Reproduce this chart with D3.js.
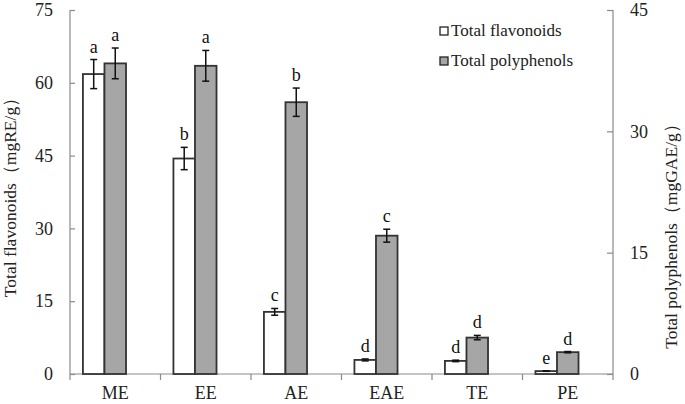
<!DOCTYPE html>
<html><head><meta charset="utf-8">
<script src="https://cdn.jsdelivr.net/npm/d3@7"></script>
<style>body{margin:0;background:#fff}svg{display:block}</style>
</head><body>
<svg id="c" width="685" height="404"></svg>
<script>
const categories = ["ME","EE","AE","EAE","TE","PE"];
const flavonoids = [61.8, 44.4, 12.8, 2.9, 2.7, 0.6];
const flavonoidsErr = [3.0, 2.3, 0.7, 0.2, 0.15, 0.05];
const flavonoidsLetters = ["a","b","c","d","d","e"];
const polyphenols = [38.4, 38.1, 33.6, 17.1, 4.5, 2.7];
const polyphenolsErr = [1.9, 1.9, 1.75, 0.8, 0.27, 0.08];
const polyphenolsLetters = ["a","a","b","c","d","d"];
const leftTicks = [0,15,30,45,60,75];
const rightTicks = [0,15,30,45];
const seriesNames = ["Total flavonoids","Total polyphenols"];

const svg = d3.select("#c");
const L = 70, R = 613, T = 10, B = 374;
const font = "'Liberation Serif','Times New Roman',serif";
const axisCol = "#8a8a8a";

const x = d3.scaleBand().domain(categories).range([L, R]).padding(0);
const sub = d3.scaleBand().domain(["f","p","_"]).range([0, x.bandwidth()]).paddingInner(0).paddingOuter(0.6);
const yL = d3.scaleLinear().domain([0,75]).range([B, T]);
const yR = d3.scaleLinear().domain([0,45]).range([B, T]);

// axes
const gL = svg.append("g").attr("transform",`translate(${L},0)`)
  .call(d3.axisRight(yL).tickValues(leftTicks).tickSize(5).tickFormat(d3.format("d")));
gL.selectAll("text").attr("x", -17).attr("text-anchor","end");
const gR = svg.append("g").attr("transform",`translate(${R},0)`)
  .call(d3.axisLeft(yR).tickValues(rightTicks).tickSize(6).tickFormat(d3.format("d")));
gR.selectAll("text").attr("x", 17).attr("text-anchor","start");
const gX = svg.append("g").attr("transform",`translate(0,${B})`)
  .call(d3.axisBottom(x).tickSize(0).tickFormat(d=>d));
gX.selectAll("text").attr("dy", 0).attr("y", 25);
// boundary ticks on x axis
gX.selectAll(".bt").data(d3.range(categories.length+1)).enter().append("line")
  .attr("x1", i=>L + i*x.step()).attr("x2", i=>L + i*x.step())
  .attr("y1",0).attr("y2",6).attr("stroke",axisCol).attr("stroke-width",1.2);

[gL,gR,gX].forEach(g=>{
  g.select(".domain").attr("stroke",axisCol).attr("stroke-width",1.2);
  g.selectAll(".tick line").attr("stroke",axisCol).attr("stroke-width",1.2);
  g.selectAll("text").attr("font-family",font).attr("font-size",18).attr("fill","#222");
});
gX.select(".domain").attr("d",`M${L},0H${R}`);
gL.select(".domain").attr("d",`M0,${T}V${B}`);
gR.select(".domain").attr("d",`M0,${T}V${B}`);

// bars
const data = categories.map((c,i)=>({c,
  f:flavonoids[i], fe:flavonoidsErr[i], fl:flavonoidsLetters[i],
  p:polyphenols[i], pe:polyphenolsErr[i], pl:polyphenolsLetters[i]}));

const bw = sub.bandwidth();
function drawSeries(key, scale, fill){
  const g = svg.append("g");
  g.selectAll("rect").data(data).enter().append("rect")
    .attr("x", d=>x(d.c)+sub(key))
    .attr("y", d=>scale(d[key]))
    .attr("width", bw)
    .attr("height", d=>B - scale(d[key]))
    .attr("fill", fill).attr("stroke","#333").attr("stroke-width",1.8);
  const ek = key+"e", lk = key+"l";
  const eg = g.selectAll("g.e").data(data).enter().append("g");
  eg.each(function(d){
    const cx = x(d.c)+sub(key)+bw/2;
    const y1 = scale(d[key]+d[ek]), y0 = scale(d[key]-d[ek]);
    const s = d3.select(this);
    s.append("line").attr("x1",cx).attr("x2",cx).attr("y1",y1).attr("y2",y0).attr("stroke","#111").attr("stroke-width",1.5);
    s.append("line").attr("x1",cx-3.5).attr("x2",cx+3.5).attr("y1",y1).attr("y2",y1).attr("stroke","#111").attr("stroke-width",1.5);
    s.append("line").attr("x1",cx-3.5).attr("x2",cx+3.5).attr("y1",y0).attr("y2",y0).attr("stroke","#111").attr("stroke-width",1.5);
    s.append("text").attr("x",cx).attr("y",y1-7).attr("text-anchor","middle")
      .attr("font-family",font).attr("font-size",18).attr("fill","#111").text(d[lk]);
  });
}
drawSeries("f", yL, "#ffffff");
drawSeries("p", yR, "#a6a6a6");

// legend
const lg = svg.append("g");
[["#ffffff",31],["#a6a6a6",61]].forEach((s,i)=>{
  lg.append("rect").attr("x",440).attr("y",s[1]-4).attr("width",8).attr("height",8)
    .attr("fill",s[0]).attr("stroke","#222").attr("stroke-width",1.3);
  lg.append("text").attr("x",451).attr("y",s[1]+5).attr("font-family",font).attr("font-size",17)
    .attr("fill","#222").text(seriesNames[i]);
});

// axis titles
svg.append("text").attr("transform","translate(16,193) rotate(-90)").attr("text-anchor","middle")
  .attr("font-family",font).attr("font-size",17.5).attr("fill","#222").text("Total flavonoids（mgRE/g）");
svg.append("text").attr("transform","translate(677,232) rotate(-90)").attr("text-anchor","middle")
  .attr("font-family",font).attr("font-size",17.5).attr("fill","#222").text("Total polyphenols（mgGAE/g）");
</script>
</body></html>
